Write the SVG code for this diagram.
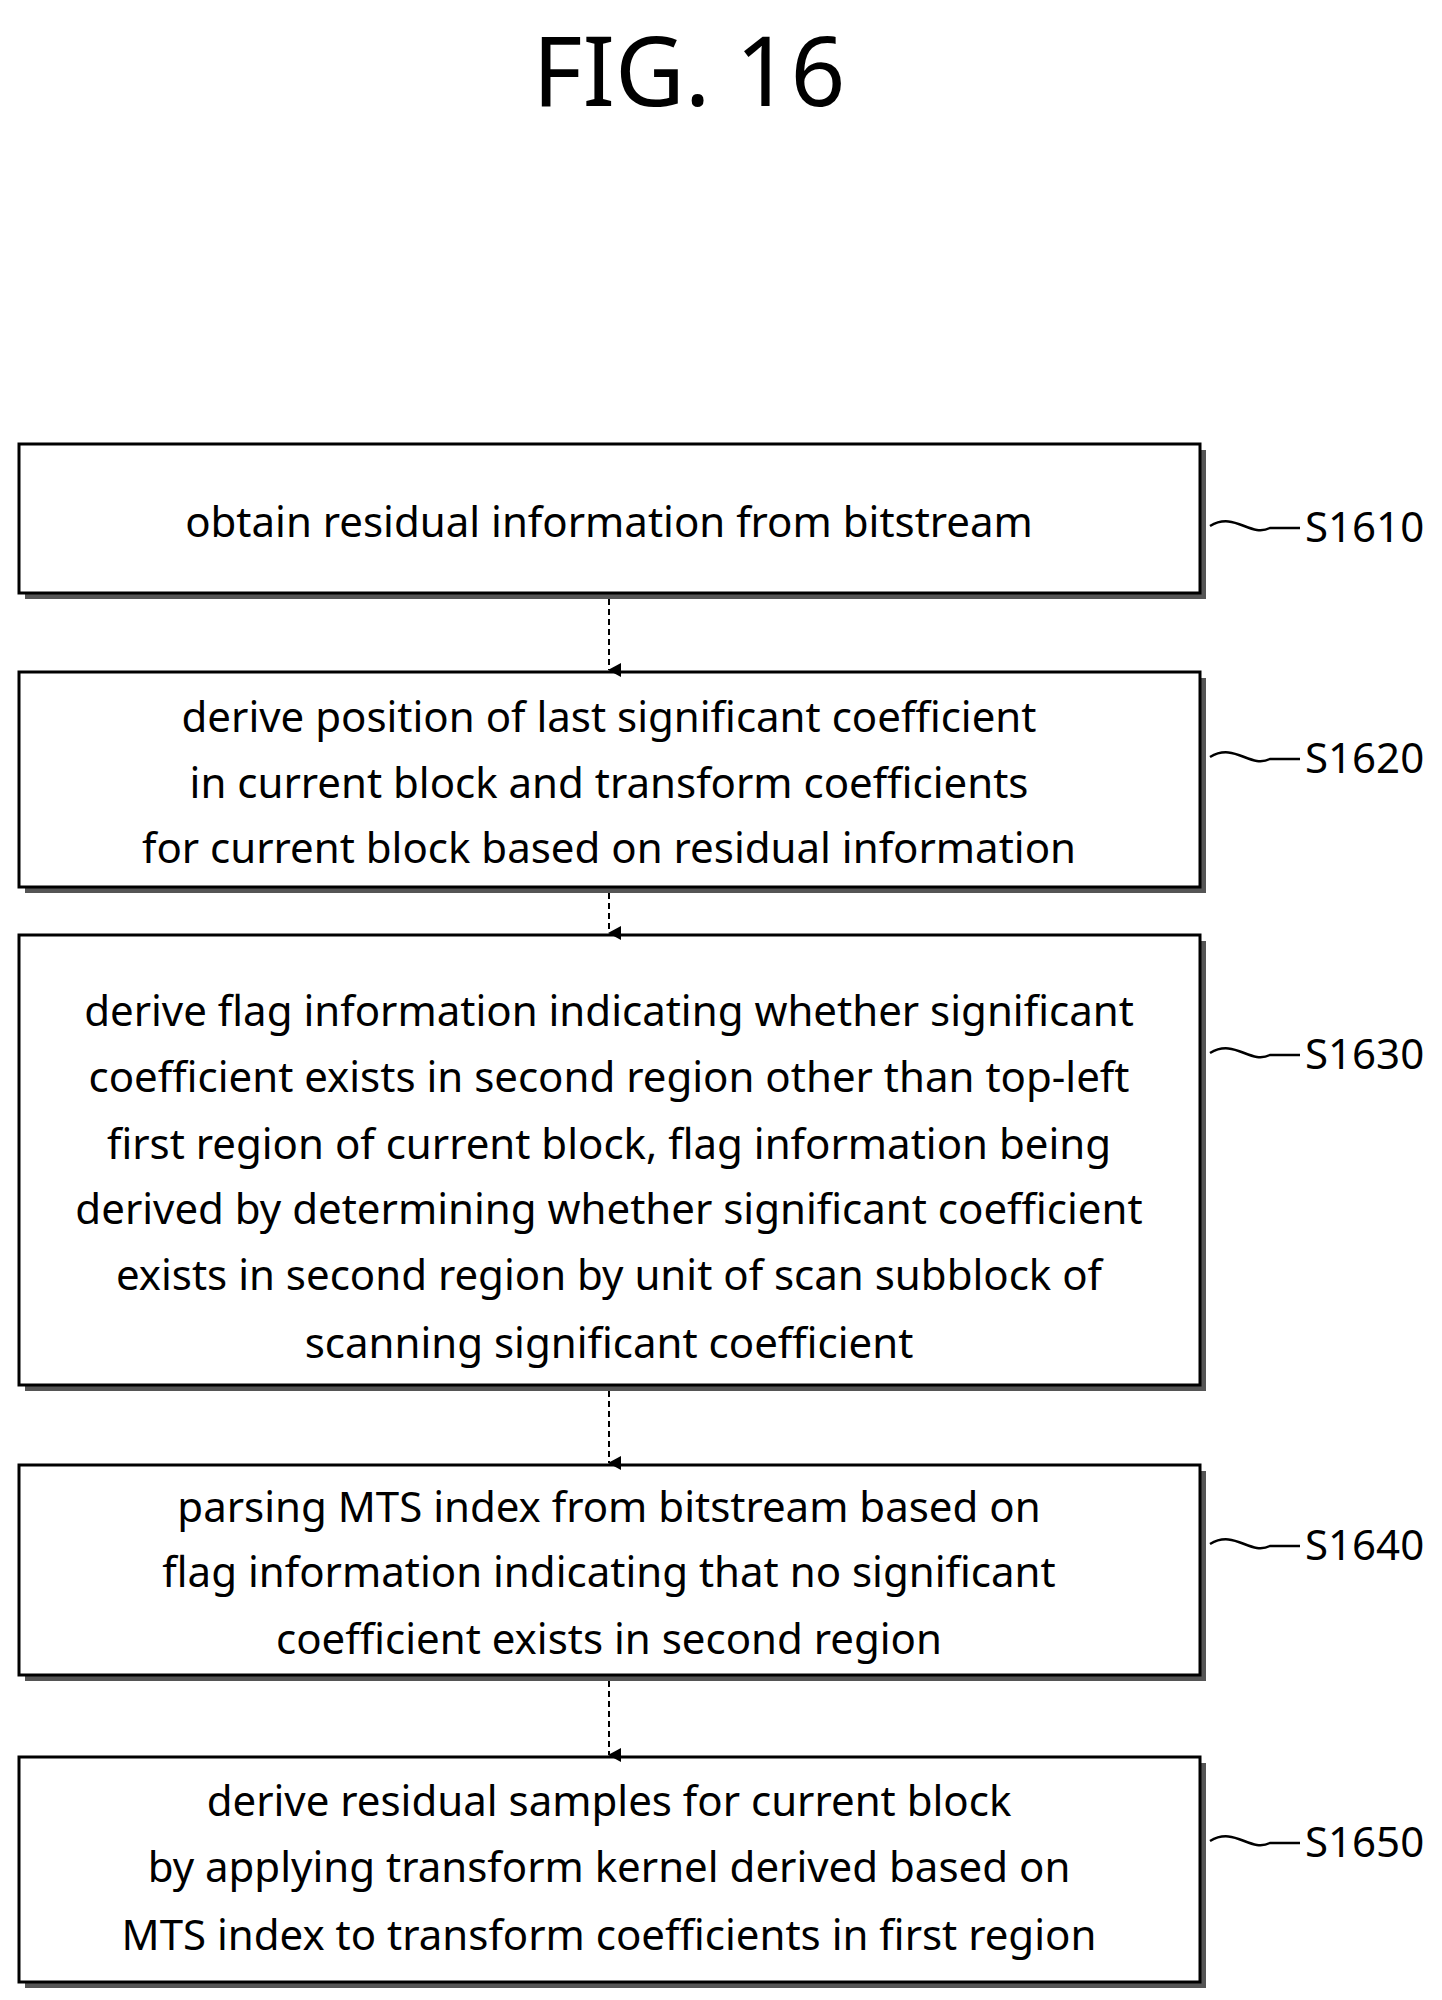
<svg xmlns="http://www.w3.org/2000/svg" width="1442" height="2000" viewBox="0 0 1442 2000">
<style>
.b{fill:#fff;stroke:#000;stroke-width:3}
.s{fill:#555}
.t{font-family:"Noto Sans",sans-serif;font-size:42px;text-anchor:middle;fill:#000}
.l{font-family:"Noto Sans",sans-serif;font-size:42px;fill:#000}
.c{fill:none;stroke:#000;stroke-width:2.5}
</style>
<defs><marker id="a" markerWidth="14" markerHeight="14" refX="7" refY="12" orient="auto" markerUnits="userSpaceOnUse"><path d="M0,0 L14,0 L7,13 z" fill="#000"/></marker></defs>
<text x="689" y="106" font-family="Noto Sans,sans-serif" font-size="96" text-anchor="middle">FIG. 16</text>
<g id="n1"><rect class="s" x="25" y="450" width="1181" height="149"/><rect class="b" x="19" y="444" width="1181" height="149"/>
<text class="t" x="609" y="537">obtain residual information from bitstream</text>
<path class="c" d="M1210,526 c25,-15 40,12 60,2 l30,0"/><text class="l" x="1305" y="542">S1610</text></g>
<g id="n2"><rect class="s" x="25" y="678" width="1181" height="215"/><rect class="b" x="19" y="672" width="1181" height="215"/>
<text class="t" x="609" y="732">derive position of last significant coefficient</text>
<text class="t" x="609" y="798">in current block and transform coefficients</text>
<text class="t" x="609" y="863">for current block based on residual information</text>
<path class="c" d="M1210,757 c25,-15 40,12 60,2 l30,0"/><text class="l" x="1305" y="773">S1620</text></g>
<g id="n3"><rect class="s" x="25" y="941" width="1181" height="450"/><rect class="b" x="19" y="935" width="1181" height="450"/>
<text class="t" x="609" y="1026">derive flag information indicating whether significant</text>
<text class="t" x="609" y="1092">coefficient exists in second region other than top-left</text>
<text class="t" x="609" y="1159">first region of current block, flag information being</text>
<text class="t" x="609" y="1224">derived by determining whether significant coefficient</text>
<text class="t" x="609" y="1290">exists in second region by unit of scan subblock of</text>
<text class="t" x="609" y="1358">scanning significant coefficient</text>
<path class="c" d="M1210,1053 c25,-15 40,12 60,2 l30,0"/><text class="l" x="1305" y="1069">S1630</text></g>
<g id="n4"><rect class="s" x="25" y="1471" width="1181" height="210"/><rect class="b" x="19" y="1465" width="1181" height="210"/>
<text class="t" x="609" y="1522">parsing MTS index from bitstream based on</text>
<text class="t" x="609" y="1587">flag information indicating that no significant</text>
<text class="t" x="609" y="1654">coefficient exists in second region</text>
<path class="c" d="M1210,1544 c25,-15 40,12 60,2 l30,0"/><text class="l" x="1305" y="1560">S1640</text></g>
<g id="n5"><rect class="s" x="25" y="1763" width="1181" height="225"/><rect class="b" x="19" y="1757" width="1181" height="225"/>
<text class="t" x="609" y="1816">derive residual samples for current block</text>
<text class="t" x="609" y="1882">by applying transform kernel derived based on</text>
<text class="t" x="609" y="1950">MTS index to transform coefficients in first region</text>
<path class="c" d="M1210,1841 c25,-15 40,12 60,2 l30,0"/><text class="l" x="1305" y="1857">S1650</text></g>
<g id="connectors" stroke="#000" stroke-width="2" stroke-dasharray="6,4" fill="none">
<line x1="609" y1="599" x2="609" y2="670" marker-end="url(#a)"/>
<line x1="609" y1="893" x2="609" y2="933" marker-end="url(#a)"/>
<line x1="609" y1="1391" x2="609" y2="1463" marker-end="url(#a)"/>
<line x1="609" y1="1681" x2="609" y2="1755" marker-end="url(#a)"/>
</g>
</svg>
